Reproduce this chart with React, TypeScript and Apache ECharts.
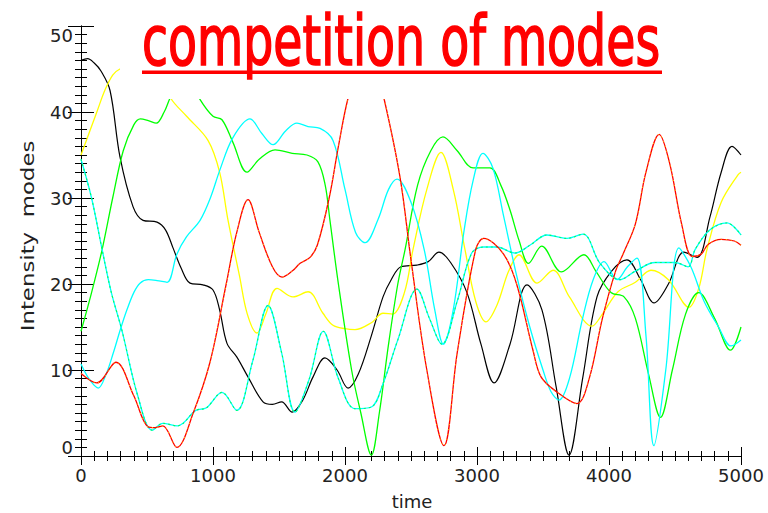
import React, { useEffect, useRef } from "react";
import * as echarts from "echarts";

const titleText = "competition of modes";
const xTicks = [0, 1000, 2000, 3000, 4000, 5000];
const yTicks = [0, 10, 20, 30, 40, 50];

const blackT = [0,50,100,150,220,295,394,470,576,640,697,760,826,924,1000,1050,1106,1181,1265,1379,1450,1520,1600,1680,1758,1848,1940,2023,2100,2200,2288,2350,2424,2545,2630,2712,2800,2924,3030,3129,3250,3379,3492,3600,3697,3800,3909,4020,4136,4240,4341,4450,4568,4667,4765,4850,4932,5000];
const blackV = [46.0,46.2,45.7,44.8,42.5,34.8,29,27.4,27.2,26.3,24.2,21.8,20.1,19.9,19.3,17,13.1,11.5,9.2,6.3,6.0,6.3,5.1,6.5,9.2,11.4,10,7.9,9.5,14,18.5,20.5,22,22.2,22.6,23.7,22.5,19,13,8.5,13,19.9,17,8,0.1,9,18.5,21.5,22.8,20.5,17.8,20,23.7,23.1,27.8,33,36,35];

const yellowT = [0,60,120,180,240,295,400,500,600,680,800,962,1050,1114,1200,1260,1333,1400,1485,1606,1720,1833,1909,2000,2076,2200,2288,2360,2450,2515,2620,2727,2820,2909,2990,3068,3150,3240,3318,3455,3576,3700,3871,3950,4068,4200,4318,4450,4606,4680,4742,4850,4977,5000];
const yellowV = [35,37.5,40,42.5,44.3,45,45.5,45.5,44.5,41.6,39.5,36.7,33,27.4,21,16.5,14.3,16.5,19.5,18.5,19.1,16.6,15.2,14.8,14.7,15.5,16.6,16.5,19,24,31,35.3,31,24,18,15.6,17.5,21.5,23.4,20.1,21.6,18.5,15.1,16.5,19.1,20.2,21.6,20.5,17.3,19.5,24,29.5,32.7,33];

const greenT = [0,80,160,240,320,400,450,510,570,630,674,740,800,860,900,1000,1068,1150,1258,1350,1470,1600,1712,1795,1850,1886,1950,2050,2120,2200,2260,2330,2400,2455,2550,2650,2742,2850,2970,3098,3180,3250,3320,3390,3490,3640,3810,3900,4015,4114,4200,4300,4390,4480,4580,4680,4800,4920,5000];
const greenV = [14.5,19,24,30,35.5,38.5,39.2,39,38.7,40,41.6,43.5,44,43,41.5,39.5,39.1,36.5,33,34.5,35.6,35.2,35,34.2,31.5,27.4,20,10,5,0.1,5,13,20,24,31.5,35.5,37.1,35.5,33.5,33.5,31.5,28.6,25,22.4,24.4,21.4,23.4,21.5,19,18.5,16,9.5,4.5,10,16.5,19,16,12.3,15];

const cyanT = [0,60,130,190,245,300,348,400,447,510,576,652,727,800,902,980,1053,1150,1280,1370,1455,1550,1636,1720,1811,1909,2000,2080,2152,2250,2330,2394,2500,2600,2680,2745,2820,2900,2970,3045,3120,3200,3300,3400,3500,3560,3621,3700,3800,3880,3962,4061,4140,4212,4280,4340,4430,4530,4620,4720,4830,4924,5000];
const cyanV = [10.7,9,7.9,9.5,12,14.8,17,19,20.1,20.5,20.4,20.2,23.5,25.5,27.4,30,33.3,37,39.2,37.5,36.2,37.8,38.7,38.3,38.1,36.7,31,26,24.8,27.5,31,32.2,29.5,24,17,13,17,26,32,35.2,33.5,28,21,15,10,7.5,6.5,9,16,20.5,22.6,20.5,22,23,14,1.2,10,24.2,22,18,15,12.8,13.5];

const tealT = [0,80,160,230,310,430,540,620,730,870,950,1068,1180,1300,1417,1520,1621,1730,1835,1950,2076,2200,2290,2400,2545,2640,2735,2850,2960,3050,3150,3288,3400,3530,3682,3803,3932,4083,4200,4350,4500,4600,4652,4765,4894,5000];
const tealV = [34.5,30,24,19,14.6,7,3.0,3.8,3.5,5.3,5.6,7.4,5.3,11,17.5,12,5.1,9,14.5,9,5.5,5.7,8.5,13.5,19.4,16,13,18,23.6,24.3,24.3,23.6,24.5,25.7,25.3,25.8,22.4,20.5,21.5,22.5,22.5,22,24,26.3,27.1,25.7];

const redT = [0,120,265,400,507,560,620,727,850,977,1100,1180,1265,1350,1450,1523,1600,1660,1735,1790,1880,1950,2023,2100,2160,2230,2295,2417,2500,2620,2750,2850,2990,3050,3200,3300,3424,3485,3600,3757,3850,3950,4050,4110,4200,4280,4380,4460,4550,4630,4700,4750,4850,4950,5000];
const redV = [9.6,8.5,10.9,7,3.4,3.3,3.5,1.0,5,10.9,20,26,29.8,26,22,20.8,21.5,22.4,23.1,24.5,30,36,41.6,45,46,45,41.6,32.4,22.8,10,1.2,12,24,25.3,23.5,20,12.3,9.2,7.5,6.1,9,16,21.5,23.6,27,33,37.4,34,27,23.2,23.5,24.6,25.2,25,24.5];

const pairs = (t: number[], v: number[]) => t.map((x, i) => [x, v[i]]);

function lineSeries(name: string, t: number[], v: number[], color: string, width: number, dash?: number[]) {
  return {
    name,
    type: "line",
    data: pairs(t, v),
    showSymbol: false,
    smooth: 0.35,
    clip: true,
    lineStyle: { color, width, type: dash ? dash : "solid" },
    z: 2,
  };
}

export default function App() {
  const ref = useRef<HTMLDivElement>(null);
  useEffect(() => {
    if (!ref.current) return;
    const chart = echarts.init(ref.current, null, { renderer: "svg" });
    const titleFont = '70px "DejaVu Sans Condensed", "DejaVu Sans", sans-serif';
    let sx = 0.8;
    try {
      const c = document.createElement("canvas").getContext("2d");
      if (c) {
        c.font = titleFont;
        const w = c.measureText(titleText).width;
        if (w > 0) sx = 518 / w;
      }
    } catch (e) {}
    const tickFont = { fontFamily: "DejaVu Sans", fontSize: 18, color: "#222" };
    const axisCommon = {
      type: "value",
      axisLine: { show: true, lineStyle: { color: "#000", width: 1 } },
      splitLine: { show: false },
    };
    chart.setOption({
      animation: false,
      backgroundColor: "#fff",
      grid: { left: 81, right: 27, top: 26, bottom: 57, containLabel: false },
      xAxis: [
        {
          ...axisCommon,
          position: "bottom",
          min: 0, max: 5000, interval: 1000,
          axisTick: { inside: true, length: 9, lineStyle: { color: "#000" } },
          minorTick: { show: true, splitNumber: 10, length: 5, lineStyle: { color: "#000" } },
          axisLabel: { ...tickFont, margin: 10, formatter: (v: number) => (xTicks.includes(v) ? String(v) : "") },
        },
        {
          ...axisCommon,
          position: "top",
          min: 0, max: 5000, interval: 1000,
          axisTick: { inside: true, length: 9, lineStyle: { color: "#000" } },
          minorTick: { show: true, splitNumber: 10, length: 5, lineStyle: { color: "#000" } },
          axisLabel: { show: false },
        },
      ],
      yAxis: [
        {
          ...axisCommon,
          position: "left",
          min: 0, max: 50, interval: 10,
          axisTick: { inside: true, length: 13, lineStyle: { color: "#000" } },
          minorTick: { show: true, splitNumber: 10, length: 6, lineStyle: { color: "#000" } },
          axisLabel: {
            ...tickFont, margin: 8,
            verticalAlignMaxLabel: "top", verticalAlignMinLabel: "bottom",
            formatter: (v: number) => (yTicks.includes(v) ? String(v) : ""),
          },
        },
        {
          ...axisCommon,
          position: "right",
          min: 0, max: 50, interval: 10,
          axisTick: { inside: true, length: 13, lineStyle: { color: "#000" } },
          minorTick: { show: true, splitNumber: 10, length: 6, lineStyle: { color: "#000" } },
          axisLabel: { show: false },
        },
      ],
      series: [
        lineSeries("black", blackT, blackV, "#000000", 1.2),
        lineSeries("yellow", yellowT, yellowV, "#ffff00", 1.3),
        lineSeries("green", greenT, greenV, "#00ff00", 1.3),
        lineSeries("cyan", cyanT, cyanV, "#00ffff", 1.3),
        lineSeries("teal", tealT, tealV, "#00ffff", 1.3),
        lineSeries("teal2", tealT, tealV, "#00ff60", 1.1, [2, 3]),
        lineSeries("red", redT, redV, "#ff0000", 1.3),
        lineSeries("red2", redT, redV, "#ffd000", 1.0, [1, 4]),
      ],
      graphic: [
        { type: "rect", z: 100, shape: { x: 120, y: 0, width: 561, height: 99 }, style: { fill: "#ffffff" } },
        {
          type: "text", z: 101, x: 142, y: 41, scaleX: sx,
          style: { text: titleText, font: titleFont, fill: "#ff0000", stroke: "#ff0000", lineWidth: 1.6, align: "left", verticalAlign: "middle" },
        },
        { type: "rect", z: 101, shape: { x: 142, y: 70.5, width: 520, height: 3.5 }, style: { fill: "#ff0000" } },
        {
          type: "text", z: 101, x: 412, y: 501,
          style: { text: "time", fontFamily: "DejaVu Sans", fontSize: 18, fill: "#222", align: "center", verticalAlign: "middle" },
        },
        {
          type: "text", z: 101, x: 28, y: 236, rotation: Math.PI / 2, scaleX: 1.27,
          style: { text: "Intensity  modes", fontFamily: "DejaVu Sans", fontSize: 18, fill: "#222", align: "center", verticalAlign: "middle" },
        },
      ],
    });
    return () => chart.dispose();
  }, []);
  return <div ref={ref} style={{ position: "fixed", left: 0, top: 0, width: 768, height: 513 }} />;
}
